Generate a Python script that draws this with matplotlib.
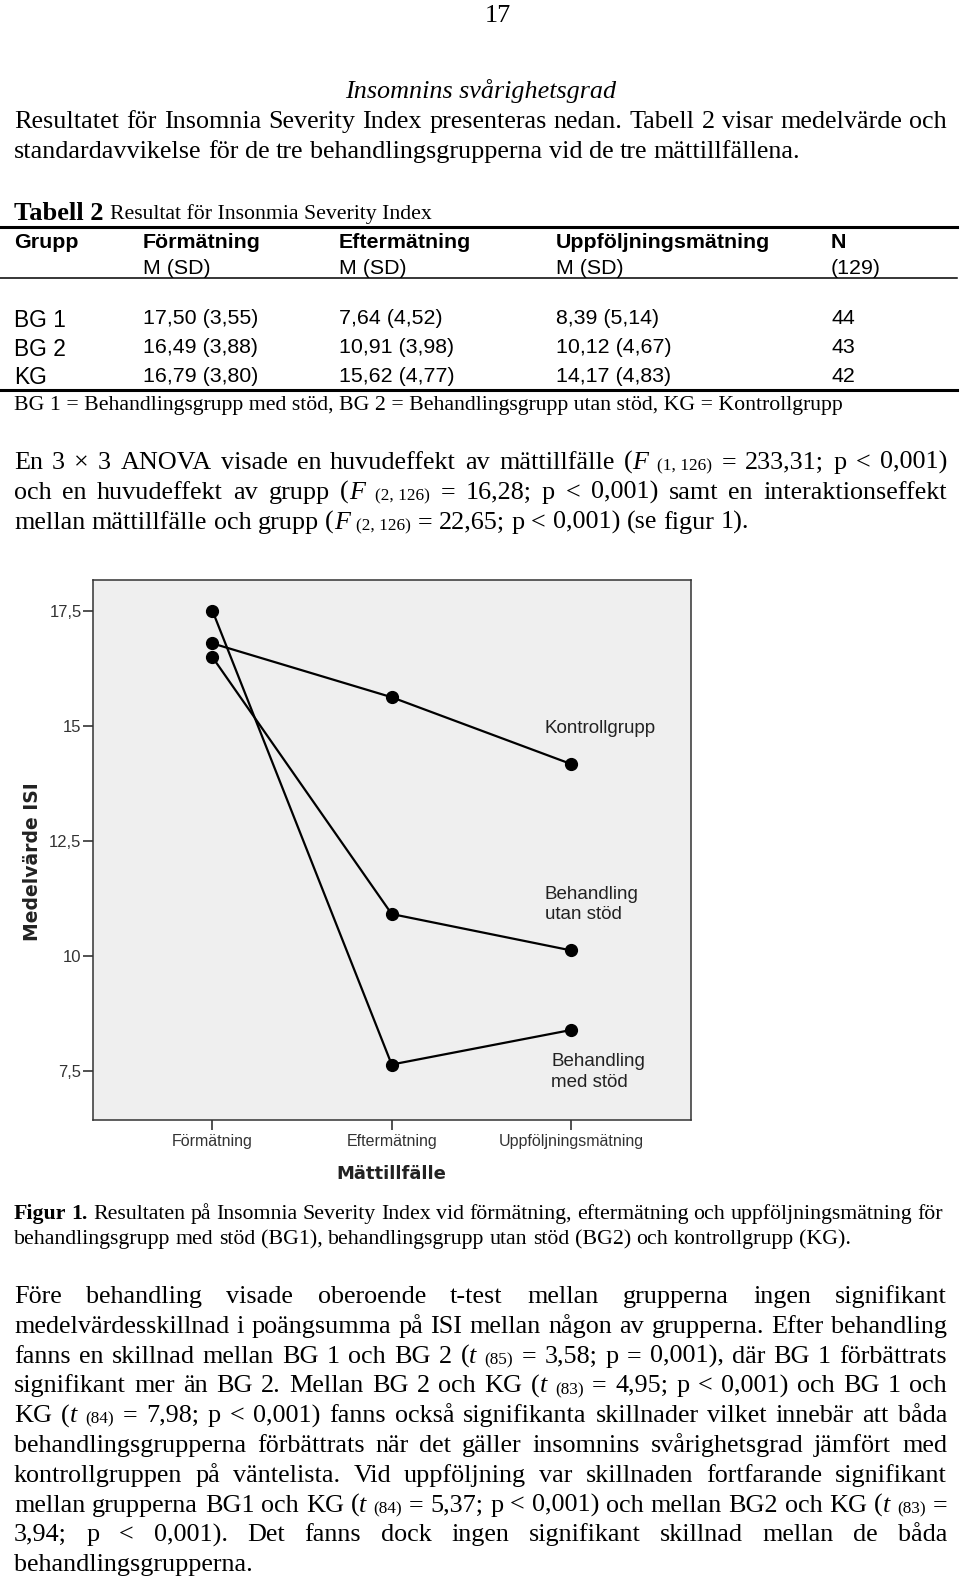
import re
import matplotlib
matplotlib.use('Agg')
import matplotlib.pyplot as plt
from matplotlib.lines import Line2D

W, H = 960, 1580

# --- data ---
matningar = ['Förmätning', 'Eftermätning', 'Uppföljningsmätning']
grupper = ['BG 1', 'BG 2', 'KG']
bg1 = [17.50, 7.64, 8.39]
bg2 = [16.49, 10.91, 10.12]
kg = [16.79, 15.62, 14.17]
sd_bg1 = [3.55, 4.52, 5.14]
sd_bg2 = [3.88, 3.98, 4.67]
sd_kg = [3.80, 4.77, 4.83]
n_grupp = [44, 43, 42]
n_total = 129
y_ticks = [7.5, 10, 12.5, 15, 17.5]
etiketter = ['Behandling\nmed stöd', 'Behandling\nutan stöd', 'Kontrollgrupp']

# --- page text (*italic*, _small_, #bold#) ---
para1 = [
    'Resultatet för Insomnia Severity Index presenteras nedan. Tabell 2 visar medelvärde och',
    'standardavvikelse för de tre behandlingsgrupperna vid de tre mättillfällena.',
]
para2 = [
    'En 3 × 3 ANOVA visade en huvudeffekt av mättillfälle (*F* _(1, 126)_ = 233,31; p < 0,001)',
    'och en huvudeffekt av grupp (*F* _(2, 126)_ = 16,28; p < 0,001) samt en interaktionseffekt',
    'mellan mättillfälle och grupp (*F* _(2, 126)_  = 22,65; p < 0,001) (se figur 1).',
]
caption = [
    '#Figur 1.# Resultaten på Insomnia Severity Index vid förmätning, eftermätning och uppföljningsmätning för',
    'behandlingsgrupp med stöd (BG1), behandlingsgrupp utan stöd (BG2) och kontrollgrupp (KG).',
]
para3 = [
    'Före behandling visade oberoende t-test mellan grupperna ingen signifikant',
    'medelvärdesskillnad i poängsumma på ISI mellan någon av grupperna. Efter behandling',
    'fanns en skillnad mellan BG 1 och BG 2 (*t* _(85)_ = 3,58; p = 0,001), där BG 1 förbättrats',
    'signifikant mer än BG 2. Mellan BG 2 och KG (*t* _(83)_ = 4,95; p < 0,001) och BG 1 och',
    'KG (*t* _(84)_ = 7,98; p < 0,001) fanns också signifikanta skillnader vilket innebär att båda',
    'behandlingsgrupperna förbättrats när det gäller insomnins svårighetsgrad jämfört med',
    'kontrollgruppen på väntelista. Vid uppföljning var skillnaden fortfarande signifikant',
    'mellan grupperna BG1 och KG (*t* _(84)_ = 5,37; p < 0,001) och mellan BG2 och KG (*t* _(83)_ =',
    '3,94; p < 0,001). Det fanns dock ingen signifikant skillnad mellan de båda',
    'behandlingsgrupperna.',
]
fotnot = 'BG 1 = Behandlingsgrupp med stöd, BG 2 = Behandlingsgrupp utan stöd, KG = Kontrollgrupp'

SERIF = 'Liberation Serif'
SANS = 'Liberation Sans'

fig = plt.figure(figsize=(W / 100, H / 100), dpi=100)
fig.patch.set_facecolor('white')
R = fig.canvas.get_renderer()


def width(s, **kw):
    t = fig.text(0, 0, s, **kw)
    w = t.get_window_extent(renderer=R).width
    t.remove()
    return w


def fit(s, target, **kw):
    return 20 * target / width(s, fontsize=20, **kw)


def put(x, y, s, **kw):
    kw.setdefault('va', 'baseline')
    return fig.text(x / W, 1 - y / H, s, **kw)


def hline(y, x0, x1, lw):
    fig.add_artist(Line2D([x0 / W, x1 / W], [1 - y / H] * 2,
                          transform=fig.transFigure, color='black', lw=lw))


def style(st, size):
    if st == 'italic':
        return dict(family=SERIF, fontsize=size, style='italic')
    if st == 'small':
        return dict(family=SERIF, fontsize=size * 0.66)
    if st == 'bold':
        return dict(family=SERIF, fontsize=size, weight='bold')
    return dict(family=SERIF, fontsize=size)


def words_of(line):
    runs = []
    for p in re.split(r'(\*[^*]+\*|_[^_]+_|#[^#]+#)', line):
        if not p:
            continue
        if p[0] == '*':
            runs.append((p[1:-1], 'italic'))
        elif p[0] == '_':
            runs.append((p[1:-1].replace(' ', '\u00a0'), 'small'))
        elif p[0] == '#':
            runs.append((p[1:-1], 'bold'))
        else:
            runs.append((p, 'normal'))
    words = [[]]
    for txt, st in runs:
        for k, piece in enumerate(txt.split(' ')):
            if k > 0:
                words.append([])
            if piece:
                words[-1].append((piece, st))
    return [w for w in words if w]


def draw_par(lines, y0, pitch, size, x0=14, x1=947):
    space = width('a a', **style('normal', size)) - width('aa', **style('normal', size))
    for i, line in enumerate(lines):
        words = words_of(line)
        ws = [sum(width(t, **style(st, size)) for t, st in w) for w in words]
        gap = space
        if i < len(lines) - 1 and len(words) > 1:
            gap = (x1 - x0 - sum(ws)) / (len(words) - 1)
        x = x0
        y = y0 + i * pitch
        for w, wd in zip(words, ws):
            xx = x
            for t, st in w:
                kw = style(st, size)
                put(xx, y + (1.5 if st == 'small' else 0), t, **kw)
                xx += width(t, **kw)
            x += wd + gap


body = fit(para1[1], 785, family=SERIF)
small_serif = fit('Resultat för Insonmia Severity Index', 321, family=SERIF)
cap_size = fit(caption[1], 835, family=SERIF)

# page number and heading
put(498, 22, '17', family=SERIF, fontsize=body, ha='center')
put(481, 98, 'Insomnins svårighetsgrad', family=SERIF, fontsize=body,
    style='italic', ha='center')
draw_par(para1, 128, 30, body)

# --- table ---
tab_bold = fit('Tabell 2', 89, family=SERIF, weight='bold')
put(14, 219.5, 'Tabell 2', family=SERIF, fontsize=tab_bold, weight='bold')
put(14 + width('Tabell 2 ', family=SERIF, fontsize=tab_bold, weight='bold'), 219.5,
    'Resultat för Insonmia Severity Index', family=SERIF, fontsize=small_serif)
hline(226.6, 0, 957, 2.2)

th = fit('Uppföljningsmätning', 214, family=SANS, weight='bold')
cols = [14, 143, 339, 556, 831]
for x, s in zip(cols, ['Grupp'] + matningar + ['N']):
    put(x, 248, s, family=SANS, fontsize=th, weight='bold')
for x in cols[1:4]:
    put(x, 274, 'M (SD)', family=SANS, fontsize=th)
put(cols[4], 274, f'({n_total})', family=SANS, fontsize=th)
hline(278.3, 0, 957, 1.1)


def fmt(m, s):
    return f'{m:.2f} ({s:.2f})'.replace('.', ',')


rows_y = [324, 353, 381.5]
for g, means, sds, n, y in zip(grupper, [bg1, bg2, kg], [sd_bg1, sd_bg2, sd_kg], n_grupp, rows_y):
    put(cols[0], y + 3, g, family=SANS, fontsize=th * 1.06)
    for x, m, s in zip(cols[1:4], means, sds):
        put(x, y, fmt(m, s), family=SANS, fontsize=th)
    put(cols[4], y, str(n), family=SANS, fontsize=th)
hline(389.5, 0, 957, 2.2)
put(14, 410, fotnot, family=SERIF, fontsize=small_serif)

draw_par(para2, 469, 30, body)

# --- chart ---
ax = fig.add_axes([92.7 / W, 1 - 1120 / H, 598 / W, 540 / H])
ax.set_facecolor('#efefef')
xs = list(range(len(matningar)))
for vals in (bg1, bg2, kg):
    ax.plot(xs, vals, color='black', lw=1.6, marker='o', ms=8.5)
ax.set_xlim(-0.668, 2.668)
ax.set_ylim(6.435, 18.167)
ax.set_xticks(xs)
ax.set_xticklabels(matningar, family=SANS, fontsize=11.5, color='#333333')
ax.set_yticks(y_ticks)
ax.set_yticklabels([f'{v:g}'.replace('.', ',') for v in y_ticks],
                   family=SANS, fontsize=12, color='#333333')
ax.tick_params(axis='y', direction='out', length=7, width=1.2, color='#333333', pad=1)
ax.tick_params(axis='x', direction='out', length=7, width=1.2, color='#333333', pad=3)
for sp in ax.spines.values():
    sp.set_color('#333333')
    sp.set_linewidth(1.1)

lab_pos = [(1.889, 7.48), (1.855, 11.12), (1.855, 14.93)]
for lab, (lx, ly) in zip(etiketter, lab_pos):
    ax.text(lx, ly, lab, family=SANS, fontsize=13.5, color='#222222',
            ha='left', va='center', linespacing=1.25)

ax.set_ylabel('Medelvärde ISI', family='DejaVu Sans', fontsize=13.5,
              weight='bold', color='#222222', va='center')
ax.yaxis.set_label_coords(-0.1015, 0.479)
ax.set_xlabel('Mättillfälle', family='DejaVu Sans', fontsize=13,
              weight='bold', color='#222222', va='center')
ax.xaxis.set_label_coords(0.5, -0.1007)

# --- caption and last paragraph ---
draw_par(caption, 1219, 25, cap_size, x1=943)
draw_par(para3, 1303, 29.8, body)

fig.savefig('out.png', dpi=100, facecolor='white')
